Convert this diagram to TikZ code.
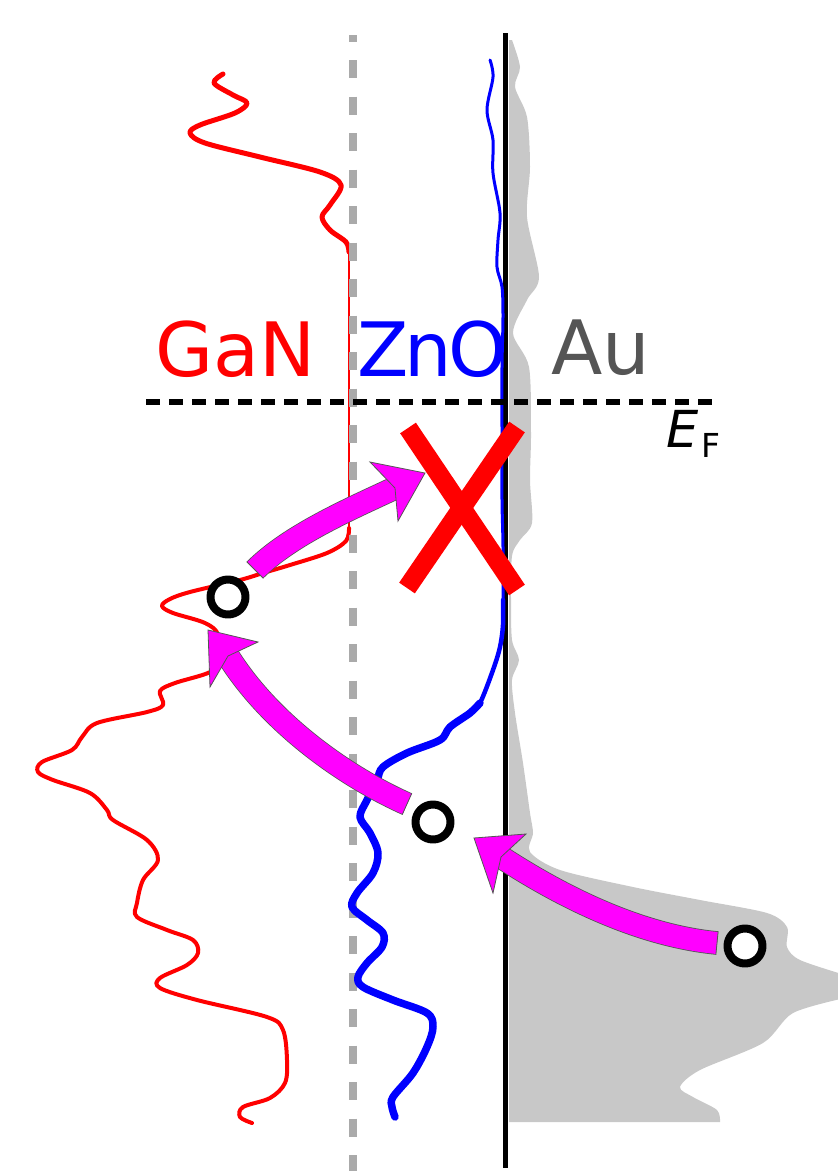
\documentclass[tikz,border=0pt]{standalone}
\usepackage{fontspec}
\setmainfont{DejaVu Sans}
\usetikzlibrary{calc}
\definecolor{aufill}{HTML}{C8C8C8}
\definecolor{dashgray}{HTML}{AAAAAA}
\definecolor{augray}{HTML}{555555}
\definecolor{edgegray}{HTML}{555555}
\definecolor{arrowfill}{HTML}{FF00FF}
\definecolor{purered}{HTML}{FF0000}
\definecolor{pureblue}{HTML}{0000FF}
\begin{document}
\begin{tikzpicture}[x=1pt,y=-1pt, line join=round,
  redline/.style={draw=purered, line cap=round},
  blueline/.style={draw=pureblue, line cap=round},
  band/.style={draw=edgegray, double=arrowfill, double distance=22pt, line width=0.8pt},
  bandend/.style={draw=edgegray, line width=0.8pt},
  bandhead/.style={draw=edgegray, fill=arrowfill, line width=0.8pt, line join=miter},
  hole/.style={circle, draw=black, fill=white, line width=8pt, minimum size=35pt, inner sep=0pt},
  lbl/.style={inner sep=0pt, anchor=base west, font=\fontsize{75}{80}\selectfont},
  crossarm/.style={draw=purered, line width=19pt}
]
\useasboundingbox (0,0) rectangle (838,1171);

% Au density of states
\fill[aufill] (509,40) -- plot[smooth, tension=0.5] coordinates {
  (512,40) (520,67) (515,87) (527,117) (530,167) (527,217) (539,277) (527,300)
  (513,333) (529,367) (531,433) (530,480) (532,523) (520,540) (512,556) (511,600)
  (512,640) (519,660) (512,680) (515,713) (523,763) (530,813) (533,833) (530,852)
  (560,870) (633,887) (700,900) (767,913) (787,927) (787,947) (800,960) (845,975)}
  -- plot[smooth, tension=0.5] coordinates {(845,998) (793,1013) (763,1043) (700,1070)
  (680,1087) (693,1097) (717,1110) (720,1122)} -- (509,1122) -- cycle;

% GaN curve
\draw[redline, line width=5pt] plot[smooth, tension=0.55] coordinates {
  (223,74) (214,83) (233,95) (247,103) (235,113) (200,125) (190,133) (205,143)
  (260,157) (320,172) (341,185) (330,205) (322,217) (330,230) (346,242) (349,252)};
\draw[purered, line width=2.2pt] (349,250) -- (349,530);
\draw[redline, line width=4pt] plot[smooth, tension=0.55] coordinates {
  (349,528) (346,541) (327,553) (290,565) (263,573) (240,580) (190,592) (170,599)
  (162,606) (173,613) (205,623) (218,635) (214,660) (210,672) (175,683) (160,691)
  (163,705) (147,712) (97,723) (82,737) (72,750) (42,762) (38,772) (53,780)
  (90,793) (107,810) (113,820) (147,840) (158,860) (143,880) (137,903) (137,917)
  (167,930) (193,940) (198,953) (187,965) (160,978) (160,988) (197,1000) (267,1017)
  (283,1030) (287,1060) (285,1083) (270,1098) (243,1107) (240,1117) (252,1123)};

% interface lines
\draw[dashgray, line width=8pt, dash pattern=on 18pt off 18.5pt, dash phase=11.5pt] (353,35) -- (353,1171);
\draw[black, line width=5pt] (505,33) -- (505,1168);

% ZnO curve
\draw[blueline, line width=3pt] plot[smooth, tension=0.55] coordinates {
  (490,60) (493,77) (487,110) (493,140) (493,173) (500,213) (498,240) (497,267)
  (502,287) (503,317) (502,367) (502,433) (502,500) (503,547) (503,613)};
\draw[blueline, line width=4.5pt] plot[smooth, tension=0.55] coordinates {
  (503,600) (503,625) (500,647) (493,670) (480,703) (470,713)};
\draw[blueline, line width=7.5pt] plot[smooth, tension=0.55] coordinates {
  (480,703) (470,713) (450,727) (440,740) (407,753) (383,767) (377,780) (367,800)
  (360,817) (370,833) (378,853) (373,873) (357,893) (352,907) (367,920) (383,933)
  (382,947) (367,963) (358,977) (363,987) (393,1000) (427,1013) (433,1027) (427,1047)
  (413,1073) (393,1097) (392,1107) (395,1117)};

% Fermi level
\draw[black, line width=6pt, dash pattern=on 14pt off 9pt] (146,402) -- (720,402);

% labels
\node[lbl, text=purered] (gan) at (155,376) {GaN};
\node[lbl, text=pureblue] (zno) at (357,376) {Z\kern-4pt n\kern-4pt O};
\node[lbl, text=augray] (au) at (551,374) {Au};
\node[inner sep=0pt, anchor=base west] (ef) at (666,447)
  {{\fontsize{51}{51}\selectfont\itshape E}\kern3pt\raisebox{-10pt}{\fontsize{33}{33}\selectfont F}};

% blocked transfer
\draw[crossarm] (408,428) -- (517,590);
\draw[crossarm] (517,427) -- (407,588);

% carriers
\node[hole] (hau) at (745,946) {};
\node[hole] (hzno) at (433,822) {};
\node[hole] (hgan) at (228,597) {};

% arrows
\coordinate (t3) at (717,943);
\coordinate (n3) at (501,857);
\draw[band] (t3) .. controls (645,936) and (570,902) .. (n3);
\draw[bandend] ($(t3)!11.8pt!90:(645,936)$) -- ($(t3)!11.8pt!-90:(645,936)$);
\filldraw[bandhead] (474,838) -- (526,834) -- (n3) -- (493,893) -- cycle;

\coordinate (t2) at (407,804);
\coordinate (n2) at (228,656);
\draw[band] (t2) .. controls (340,774) and (268,720) .. (n2);
\draw[bandend] ($(t2)!11.8pt!90:(340,774)$) -- ($(t2)!11.8pt!-90:(340,774)$);
\filldraw[bandhead] (208,630) -- (258,642) -- (n2) -- (210,687) -- cycle;

\coordinate (t1) at (255,570);
\coordinate (n1) at (395,488);
\draw[band] (t1) .. controls (290,535) and (350,509) .. (n1);
\draw[bandend] ($(t1)!11.8pt!90:(290,535)$) -- ($(t1)!11.8pt!-90:(290,535)$);
\filldraw[bandhead] (425,473) -- (370,462) -- (n1) -- (398,521) -- cycle;
\end{tikzpicture}
\end{document}
